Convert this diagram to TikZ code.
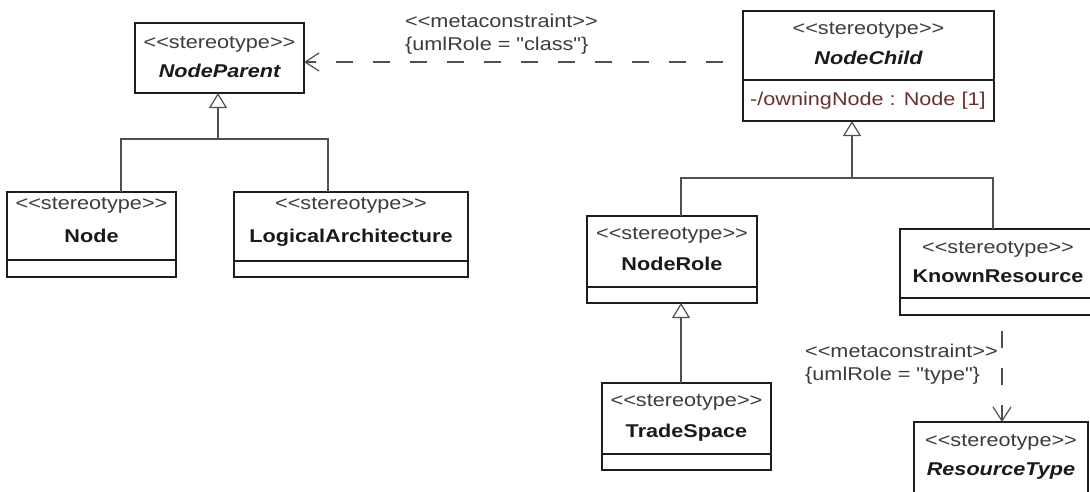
\documentclass[tikz,border=0pt]{standalone}
\usepackage{fontspec}
\newfontfamily\af{Liberation Sans}
\usetikzlibrary{arrows.meta}
\definecolor{boxc}{HTML}{1E1E1E}
\definecolor{linec}{HTML}{505050}
\definecolor{stc}{HTML}{3C3C3C}
\definecolor{namec}{HTML}{1A1A1A}
\definecolor{attrc}{HTML}{6A3030}
\newcommand\hs[1]{\scalebox{1.17}[1]{#1}}
\newcommand\dlt{<\kern0pt<}
\newcommand\dgt{>\kern0pt>}
\begin{document}
\begin{tikzpicture}[x=1pt,y=-1pt,
  cls/.style={draw=boxc, line width=1.5pt, anchor=north west, inner sep=0pt, outer sep=0pt},
  divl/.style={draw=boxc, line width=1.5pt},
  txt/.style={inner sep=0pt, anchor=base, font=\af\fontsize{18.5pt}{20pt}\selectfont},
  st/.style={txt, text=stc},
  nm/.style={txt, text=namec, font=\af\fontsize{18.5pt}{20pt}\selectfont\bfseries},
  nmi/.style={txt, text=namec, font=\af\fontsize{18.5pt}{20pt}\selectfont\bfseries\itshape},
  lbl/.style={txt, anchor=base west, text=stc},
  conn/.style={draw=linec, line width=1.2pt},
  gen/.style={conn, -{Triangle[open, length=15pt, width=18pt, fill=white]}},
  dep/.style={conn, dash pattern=on 17pt off 20pt, -{Straight Barb[length=14pt, width=18pt]}}
]
\useasboundingbox (0,0) rectangle (1090,491);
\clip (0,0) rectangle (1090,491);
\fill[white] (0,0) rectangle (1090,491);

% class boxes
\node[cls, minimum width=169pt, minimum height=70pt] (NodeParent) at (135,23) {};
\node[cls, minimum width=169pt, minimum height=85pt] (Node) at (7,192) {};
\node[cls, minimum width=234pt, minimum height=85pt] (LogicalArch) at (234,192) {};
\node[cls, minimum width=251pt, minimum height=110pt] (NodeChild) at (743,11) {};
\node[cls, minimum width=170pt, minimum height=87pt] (NodeRole) at (587,216) {};
\node[cls, minimum width=169pt, minimum height=87pt] (TradeSpace) at (602,383) {};
\node[cls, minimum width=196pt, minimum height=86pt] (KnownResource) at (900,229) {};
\node[cls, minimum width=174pt, minimum height=95pt] (ResourceType) at (914,422) {};

% compartment dividers
\draw[divl] ([yshift=17pt]Node.south west) -- ([yshift=17pt]Node.south east);
\draw[divl] ([yshift=16pt]LogicalArch.south west) -- ([yshift=16pt]LogicalArch.south east);
\draw[divl] ([yshift=41pt]NodeChild.south west) -- ([yshift=41pt]NodeChild.south east);
\draw[divl] ([yshift=16pt]NodeRole.south west) -- ([yshift=16pt]NodeRole.south east);
\draw[divl] ([yshift=16pt]TradeSpace.south west) -- ([yshift=16pt]TradeSpace.south east);
\draw[divl] ([yshift=17pt]KnownResource.south west) -- ([yshift=17pt]KnownResource.south east);

% texts
\node[st]  (tNP1) at (219.5,48) {\hs{\dlt stereotype\dgt}};
\node[nmi] (tNP2) at (219.5,77) {\hs{NodeParent}};
\node[st]  (tN1) at (91.5,209) {\hs{\dlt stereotype\dgt}};
\node[nm]  (tN2) at (91.5,242) {\hs{Node}};
\node[st]  (tLA1) at (351,209) {\hs{\dlt stereotype\dgt}};
\node[nm]  (tLA2) at (351,242) {\hs{LogicalArchitecture}};
\node[st]  (tNC1) at (868.5,34) {\hs{\dlt stereotype\dgt}};
\node[nmi] (tNC2) at (868.5,64) {\hs{NodeChild}};
\node[txt, anchor=base west, text=attrc] (tNC3) at (750,105) {\hs{-/owningNode : Node [1]}};
\node[st]  (tNR1) at (672,239) {\hs{\dlt stereotype\dgt}};
\node[nm]  (tNR2) at (672,270) {\hs{NodeRole}};
\node[st]  (tTS1) at (686.5,406) {\hs{\dlt stereotype\dgt}};
\node[nm]  (tTS2) at (686.5,437) {\hs{TradeSpace}};
\node[st]  (tKR1) at (998,253) {\hs{\dlt stereotype\dgt}};
\node[nm]  (tKR2) at (998,282) {\hs{KnownResource}};
\node[st]  (tRT1) at (1001,446) {\hs{\dlt stereotype\dgt}};
\node[nmi] (tRT2) at (1001,475) {\hs{ResourceType}};

% dependency labels
\node[lbl] (mc1a) at (405,27) {\hs{\dlt metaconstraint\dgt}};
\node[lbl] (mc1b) at (405,50) {\hs{\{umlRole = "class"\}}};
\node[lbl] (mc2a) at (805,357) {\hs{\dlt metaconstraint\dgt}};
\node[lbl] (mc2b) at (805,380) {\hs{\{umlRole = "type"\}}};

% generalizations
\coordinate (j1) at (218,139);
\draw[conn] ([xshift=114pt]Node.north west) |- (j1) -| ([xshift=94pt]LogicalArch.north west);
\draw[gen] (j1) -- ([xshift=83pt]NodeParent.south west);

\coordinate (j2) at (852,178);
\draw[conn] ([xshift=94pt]NodeRole.north west) |- (j2) -| ([xshift=93pt]KnownResource.north west);
\draw[gen] (j2) -- ([xshift=109pt]NodeChild.south west);

\draw[gen] ([xshift=79pt]TradeSpace.north west) -- ([xshift=94pt]NodeRole.south west);

% dependencies
\draw[dep, dash phase=17pt] ([yshift=4pt]NodeChild.west) -- ([yshift=-4pt]NodeParent.east);
\draw[dep, dash phase=21pt] ([xshift=102pt]KnownResource.south west) -- ([xshift=88pt]ResourceType.north west);
\end{tikzpicture}
\end{document}
